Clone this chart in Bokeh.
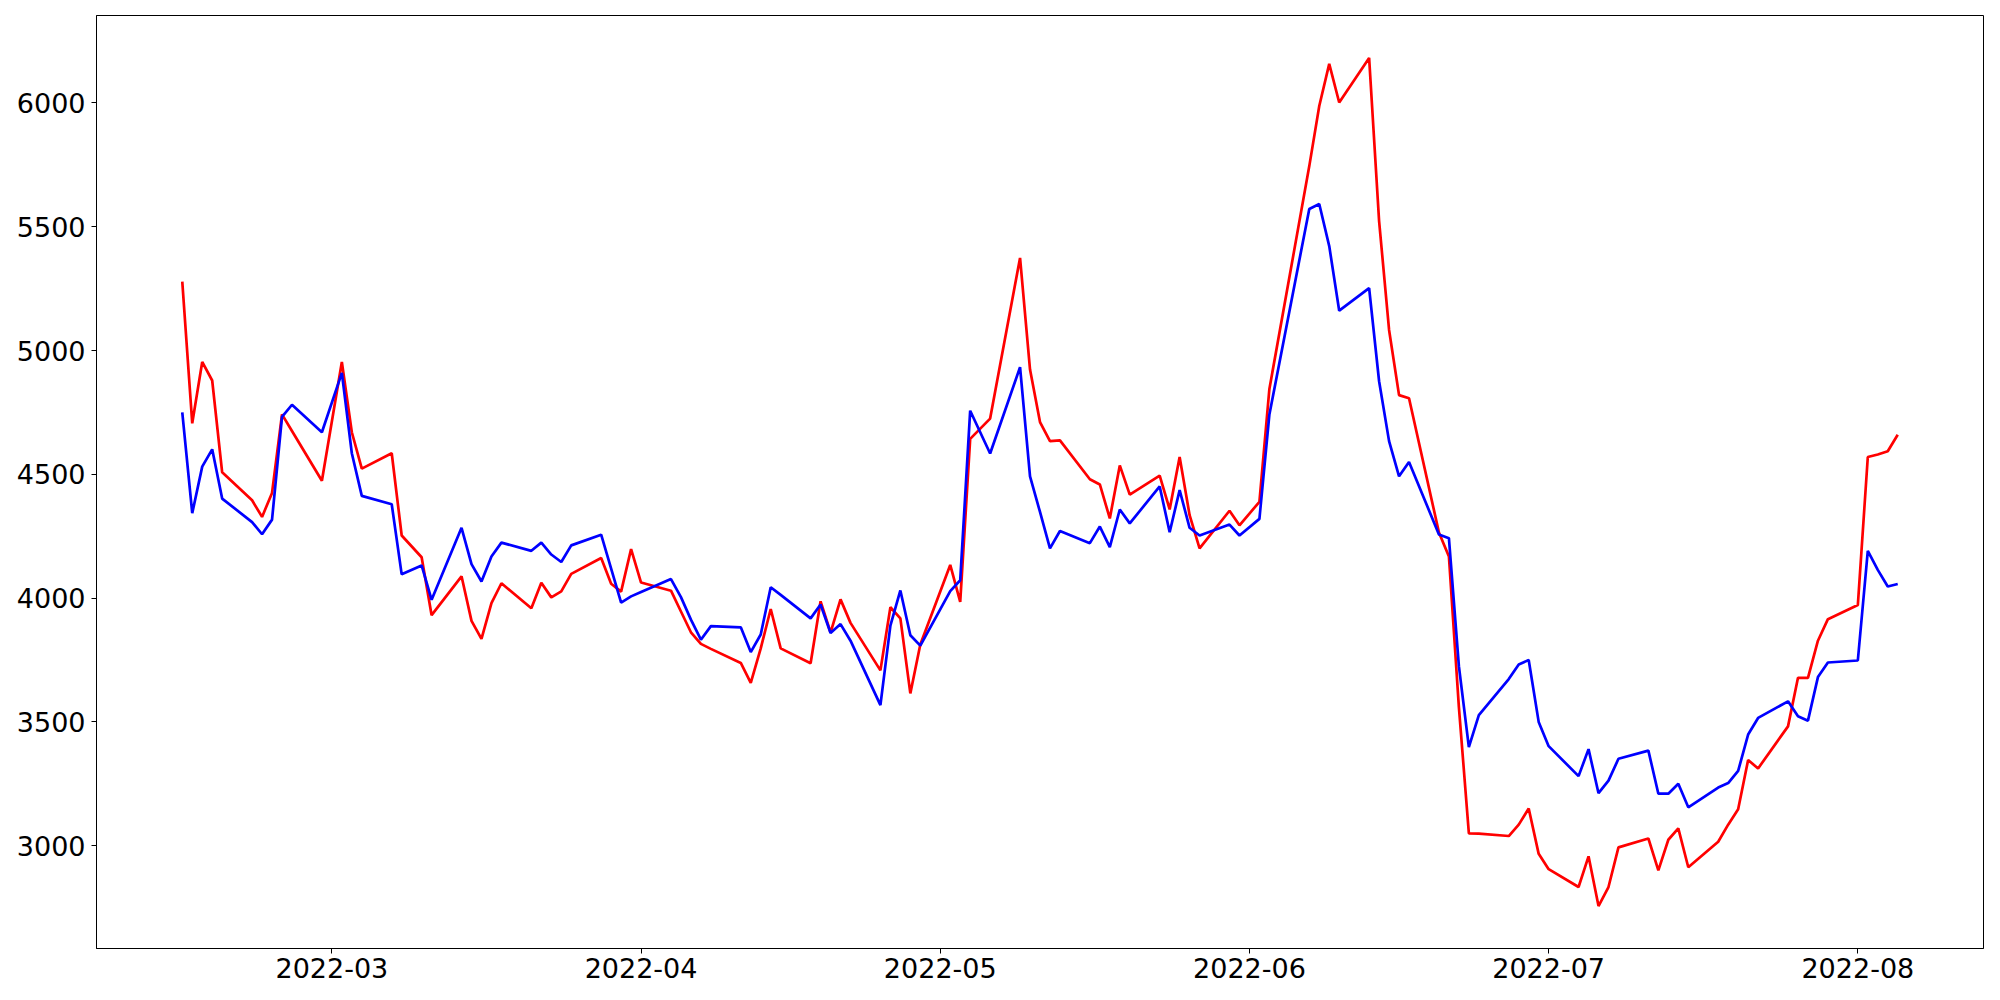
import pandas as pd
from bokeh.plotting import figure
from bokeh.models import Range1d, FixedTicker, DatetimeTickFormatter
from bokeh.embed import file_html
from bokeh.resources import INLINE

dates = [
    "2022-02-14", "2022-02-15", "2022-02-16", "2022-02-17", "2022-02-18",
    "2022-02-21", "2022-02-22", "2022-02-23", "2022-02-24", "2022-02-25",
    "2022-02-28", "2022-03-02", "2022-03-03", "2022-03-04",
    "2022-03-07", "2022-03-08", "2022-03-10", "2022-03-11",
    "2022-03-14", "2022-03-15", "2022-03-16", "2022-03-17", "2022-03-18",
    "2022-03-21", "2022-03-22", "2022-03-23", "2022-03-24", "2022-03-25",
    "2022-03-28", "2022-03-29", "2022-03-30", "2022-03-31", "2022-04-01",
    "2022-04-04", "2022-04-05", "2022-04-06", "2022-04-07", "2022-04-08",
    "2022-04-11", "2022-04-12", "2022-04-13", "2022-04-14", "2022-04-15",
    "2022-04-18", "2022-04-19", "2022-04-20", "2022-04-21", "2022-04-22",
    "2022-04-25", "2022-04-26", "2022-04-27", "2022-04-28", "2022-04-29",
    "2022-05-02", "2022-05-03", "2022-05-04", "2022-05-06",
    "2022-05-09", "2022-05-10", "2022-05-11", "2022-05-12", "2022-05-13",
    "2022-05-16", "2022-05-17", "2022-05-18", "2022-05-19", "2022-05-20",
    "2022-05-23", "2022-05-24", "2022-05-25", "2022-05-26", "2022-05-27",
    "2022-05-30", "2022-05-31", "2022-06-02", "2022-06-03",
    "2022-06-07", "2022-06-08", "2022-06-09", "2022-06-10",
    "2022-06-13", "2022-06-14", "2022-06-15", "2022-06-16", "2022-06-17",
    "2022-06-20", "2022-06-21", "2022-06-22", "2022-06-23", "2022-06-24",
    "2022-06-27", "2022-06-28", "2022-06-29", "2022-06-30", "2022-07-01",
    "2022-07-04", "2022-07-05", "2022-07-06", "2022-07-07", "2022-07-08",
    "2022-07-11", "2022-07-12", "2022-07-13", "2022-07-14", "2022-07-15",
    "2022-07-18", "2022-07-19", "2022-07-20", "2022-07-21", "2022-07-22",
    "2022-07-25", "2022-07-26", "2022-07-27", "2022-07-28", "2022-07-29",
    "2022-08-01", "2022-08-02", "2022-08-03", "2022-08-04", "2022-08-05",
]

red_values = [
    5278, 4706, 4954, 4879, 4508,
    4395, 4328, 4425, 4742, 4675,
    4474, 4954, 4670, 4523,
    4585, 4253, 4165, 3931,
    4088, 3908, 3835, 3980, 4060,
    3959, 4062, 4003, 4027, 4098,
    4162, 4058, 4026, 4198, 4063,
    4030, 3946, 3862, 3815, 3795,
    3738, 3658, 3797, 3956, 3797,
    3737, 3987, 3861, 3995, 3900,
    3708, 3963, 3918, 3615, 3813,
    4134, 3985, 4643, 4725,
    5374, 4923, 4711, 4634, 4637,
    4480, 4459, 4322, 4536, 4418,
    4495, 4358, 4570, 4335, 4201,
    4353, 4294, 4389, 4845,
    5745, 5988, 6158, 6002,
    6182, 5523, 5083, 4820, 4807,
    4265, 4168, 3560, 3050, 3049,
    3039, 3085, 3150, 2967, 2905,
    2833, 2957, 2756, 2833, 2993,
    3029, 2900, 3024, 3070, 2913,
    3016, 3085, 3147, 3346, 3312,
    3482, 3678, 3678, 3828, 3915,
    3972, 4570, 4580, 4593, 4660,
]

blue_values = [
    4750, 4343, 4531, 4601, 4402,
    4307, 4258, 4317, 4732, 4781,
    4670, 4910, 4585, 4413,
    4379, 4096, 4132, 3993,
    4284, 4137, 4067, 4168, 4224,
    4191, 4224, 4176, 4146, 4213,
    4256, 4119, 3982, 4007, 4025,
    4077, 4004, 3913, 3832, 3887,
    3882, 3782, 3853, 4044, 4013,
    3918, 3974, 3859, 3895, 3828,
    3568, 3889, 4031, 3850, 3808,
    4028, 4072, 4757, 4584,
    4933, 4492, 4348, 4201, 4271,
    4222, 4289, 4206, 4358, 4302,
    4451, 4266, 4436, 4284, 4253,
    4297, 4253, 4320, 4742,
    5572, 5592, 5422, 5161,
    5252, 4876, 4634, 4492, 4550,
    4257, 4242, 3725, 3398, 3527,
    3673, 3732, 3750, 3500, 3402,
    3281, 3390, 3212, 3263, 3351,
    3384, 3210, 3210, 3250, 3155,
    3235, 3253, 3302, 3449, 3516,
    3583, 3523, 3505, 3681, 3740,
    3748, 4191, 4114, 4047, 4057,
]

x_tick_labels = ["2022-03", "2022-04", "2022-05", "2022-06", "2022-07", "2022-08"]
y_ticks = [3000, 3500, 4000, 4500, 5000, 5500, 6000]

x = pd.to_datetime(dates)
xmin, xmax = x.min(), x.max()
xpad = (xmax - xmin) * 0.05
allv = red_values + blue_values
ymin, ymax = min(allv), max(allv)
ypad = (ymax - ymin) * 0.05

p = figure(
    width=1984, height=984,
    x_axis_type="datetime",
    x_range=Range1d(xmin - xpad, xmax + xpad),
    y_range=Range1d(ymin - ypad, ymax + ypad),
    output_backend="svg", toolbar_location=None,
    min_border_left=96, min_border_right=1, min_border_top=15, min_border_bottom=36,
    background_fill_color="white", border_fill_color="white",
)

p.line(x, red_values, line_color="#ff0000", line_width=2.7)
p.line(x, blue_values, line_color="#0000ff", line_width=2.7)

tick_ms = [pd.Timestamp(t + "-01").value / 1e6 for t in x_tick_labels]
p.xaxis.ticker = FixedTicker(ticks=tick_ms)
fmt = "%Y-%m"
p.xaxis.formatter = DatetimeTickFormatter(
    milliseconds=fmt, seconds=fmt, minsec=fmt, minutes=fmt, hourmin=fmt,
    hours=fmt, days=fmt, months=fmt, years=fmt,
)
p.yaxis.ticker = FixedTicker(ticks=y_ticks)

p.grid.visible = False
p.outline_line_color = "black"
p.outline_line_width = 1
p.outline_line_alpha = 1

for ax in (p.xaxis, p.yaxis):
    ax.axis_line_color = "black"
    ax.axis_line_width = 1
    ax.major_tick_out = 5
    ax.major_tick_in = 0
    ax.major_tick_line_color = "black"
    ax.major_tick_line_width = 1
    ax.minor_tick_line_color = None
    ax.major_label_text_font = "DejaVu Sans"
    ax.major_label_text_font_size = "27px"
    ax.major_label_text_color = "black"

p.yaxis.major_label_standoff = 6
p.xaxis.major_label_standoff = 4

open("out.html", "w").write(file_html(p, INLINE))
